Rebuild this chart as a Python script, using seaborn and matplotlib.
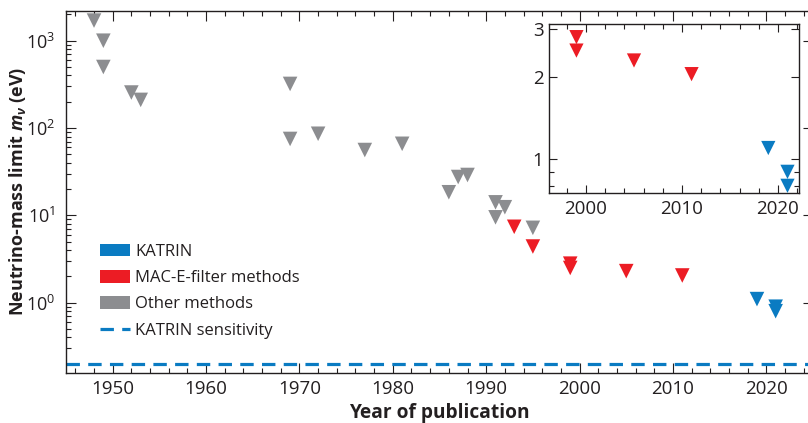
import numpy as np
import pandas as pd
import matplotlib
matplotlib.use("Agg")
import matplotlib.pyplot as plt
import matplotlib.ticker as mticker
from matplotlib.patches import Patch
from matplotlib.lines import Line2D
import seaborn as sns

# ---- data ----
other_years = [1948, 1949, 1949, 1952, 1953, 1969, 1969, 1972, 1977, 1981,
               1986, 1987, 1988, 1991, 1991, 1992, 1995]
other_vals = [1700, 1000, 500, 255, 210, 320, 75, 86, 56, 66,
              18.4, 27.5, 29, 14.1, 9.5, 12.4, 7.2]
mace_years = [1993, 1995, 1999, 1999, 2005, 2011]
mace_vals = [7.4, 4.4, 2.8, 2.5, 2.3, 2.05]
katrin_years = [2019, 2021, 2021]
katrin_vals = [1.1, 0.9, 0.8]
katrin_sensitivity = 0.2

categories = ["KATRIN", "MAC-E-filter methods", "Other methods"]
sens_label = "KATRIN sensitivity"
xlabel = "Year of publication"
ylabel = r"Neutrino-mass limit $m_\nu$ (eV)"

colors = {"KATRIN": "#0a7bc2", "MAC-E-filter methods": "#ec1c24",
          "Other methods": "#8c8d90"}

df = pd.DataFrame({
    "year": other_years + mace_years + katrin_years,
    "limit": other_vals + mace_vals + katrin_vals,
    "method": (["Other methods"] * len(other_years)
               + ["MAC-E-filter methods"] * len(mace_years)
               + ["KATRIN"] * len(katrin_years)),
})
inset_df = df[df["year"] >= 1996]

# ---- style ----
sns.set_theme(style="ticks")
plt.rcParams["font.family"] = ["Open Sans", "DejaVu Sans"]
plt.rcParams["mathtext.fontset"] = "custom"
plt.rcParams["mathtext.rm"] = "Open Sans:bold"
plt.rcParams["mathtext.it"] = "Open Sans:italic:bold"
plt.rcParams["mathtext.bf"] = "Open Sans:bold"
dark = "#231f20"

W, H = 808, 423
fig = plt.figure(figsize=(W / 100, H / 100), dpi=100)
ax = fig.add_axes([66 / W, 50.3 / H, 747 / W, 362 / H])

sns.scatterplot(data=df, x="year", y="limit", hue="method", palette=colors,
                marker="v", s=110, linewidth=0, legend=False, ax=ax, zorder=3)
ax.axhline(katrin_sensitivity, color=colors["KATRIN"], lw=2.3,
           ls=(0, (4.2, 2.6)), zorder=2)

ax.set_yscale("log")
ax.set_xlim(1945, 2025)
ax.set_ylim(0.158, 2206)
ax.xaxis.set_major_locator(mticker.MultipleLocator(10))
ax.xaxis.set_minor_locator(mticker.MultipleLocator(2))
ax.yaxis.set_major_locator(mticker.LogLocator(base=10, numticks=10))
ax.yaxis.set_minor_locator(mticker.LogLocator(base=10, subs=np.arange(2, 10), numticks=20))
ax.yaxis.set_minor_formatter(mticker.NullFormatter())
ax.tick_params(which="both", direction="in", top=True, right=True,
               color=dark, labelcolor=dark, labelsize=13.5, width=0.8)
ax.tick_params(which="major", length=7)
ax.tick_params(which="minor", length=3.5)
ax.tick_params(axis="x", pad=5)
ax.tick_params(axis="y", pad=8, labelsize=13)
for sp in ax.spines.values():
    sp.set_color(dark)
    sp.set_linewidth(1.0)

ax.set_xlabel(xlabel, fontsize=13.8, fontweight="bold", color=dark, labelpad=4)
ax.set_ylabel(ylabel, fontsize=13, fontweight="bold", color=dark, labelpad=-2)

handles = [Patch(facecolor=colors[c], edgecolor="none", label=c) for c in categories]
handles.append(Line2D([0], [0], color=colors["KATRIN"], lw=2.3,
                      ls=(0, (4.2, 2.6)), label=sens_label))
leg = ax.legend(handles=handles, loc="upper left",
                bbox_to_anchor=(100 / W, (H - 243.5) / H),
                bbox_transform=fig.transFigure, frameon=False,
                fontsize=12, handlelength=1.8, handleheight=0.8,
                handletextpad=0.3, labelspacing=0.61, borderpad=0,
                borderaxespad=0)
for t in leg.get_texts():
    t.set_color(dark)

# ---- inset ----
axi = fig.add_axes([549 / W, (H - 193.3) / H, 250 / W, 169 / H])
sns.scatterplot(data=inset_df, x="year", y="limit", hue="method",
                palette=colors, marker="v", s=105, linewidth=0,
                legend=False, ax=axi, zorder=3)
axi.set_yscale("log")
axi.set_xlim(1996.14, 2022.2)
axi.set_ylim(0.751, 3.12)
axi.xaxis.set_major_locator(mticker.FixedLocator([2000, 2010, 2020]))
axi.xaxis.set_minor_locator(mticker.MultipleLocator(2))
axi.yaxis.set_major_locator(mticker.FixedLocator([1, 2, 3]))
axi.yaxis.set_major_formatter(mticker.FixedFormatter(["1", "2", "3"]))
axi.yaxis.set_minor_locator(mticker.FixedLocator([0.8, 0.9]))
axi.yaxis.set_minor_formatter(mticker.NullFormatter())
axi.tick_params(which="both", direction="in", top=True, right=True,
                color=dark, labelcolor=dark, labelsize=13.5, width=0.8)
axi.tick_params(which="major", length=6)
axi.tick_params(which="minor", length=3.5)
axi.tick_params(axis="x", pad=5)
axi.tick_params(axis="y", pad=4)
axi.set_xlabel("")
axi.set_ylabel("")
for sp in axi.spines.values():
    sp.set_color(dark)
    sp.set_linewidth(1.0)

fig.savefig("out.png", dpi=100)
